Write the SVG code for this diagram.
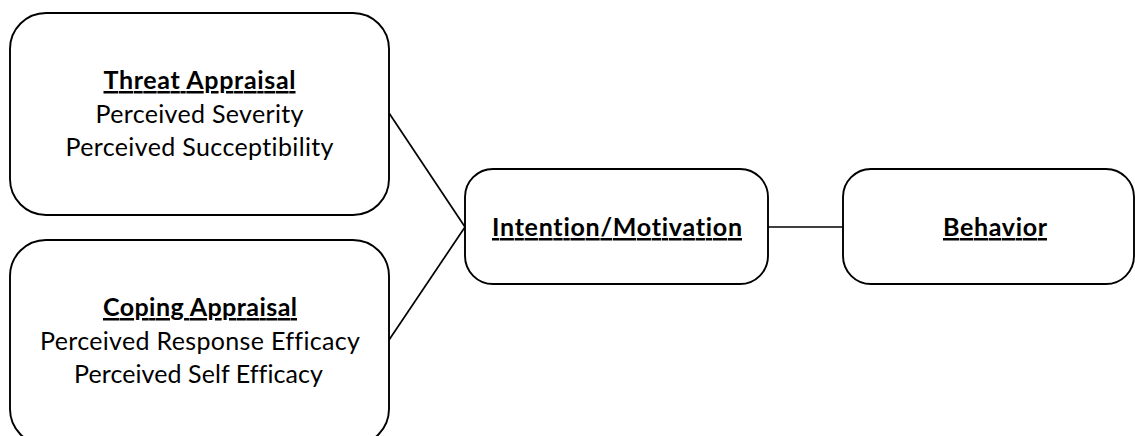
<svg xmlns="http://www.w3.org/2000/svg" width="1135" height="436" viewBox="0 0 1135 436">
<style>
.box{fill:#fff;stroke:#000;stroke-width:1.9}
.con{stroke:#000;stroke-width:1.7;fill:none}
text{font-family:Lato,"Open Sans","Liberation Sans",sans-serif;font-size:25px;fill:#000;text-anchor:middle;font-variant-ligatures:none;font-feature-settings:"liga" 0,"clig" 0}
.h{font-weight:bold;text-decoration:underline}
</style>
<rect width="1135" height="436" fill="#fff"/>
<g id="connectors">
<line class="con" x1="389" y1="113" x2="465" y2="227"/>
<line class="con" x1="389" y1="340" x2="465" y2="227"/>
<line class="con" x1="768" y1="227" x2="843" y2="227"/>
</g>
<g id="threat">
<rect class="box" x="10" y="13" width="379" height="202" rx="36" ry="36"/>
<text class="h" x="199.5" y="89" textLength="192" lengthAdjust="spacing">Threat Appraisal</text>
<text x="199.5" y="123" textLength="208" lengthAdjust="spacing">Perceived Severity</text>
<text x="199.5" y="156" textLength="268" lengthAdjust="spacing">Perceived Succeptibility</text>
</g>
<g id="coping">
<rect class="box" x="10" y="240" width="379" height="205" rx="36" ry="36"/>
<text class="h" x="200" y="316" textLength="194" lengthAdjust="spacing">Coping Appraisal</text>
<text x="200" y="350" textLength="320" lengthAdjust="spacing">Perceived Response Efficacy</text>
<text x="198.5" y="383" textLength="249" lengthAdjust="spacing">Perceived Self Efficacy</text>
</g>
<g id="intention">
<rect class="box" x="465" y="169" width="303" height="115" rx="28" ry="28"/>
<text class="h" x="617" y="236" textLength="250" lengthAdjust="spacing">Intention/Motivation</text>
</g>
<g id="behavior">
<rect class="box" x="843" y="169" width="291" height="115" rx="28" ry="28"/>
<text class="h" x="995" y="236" textLength="104" lengthAdjust="spacing">Behavior</text>
</g>
</svg>
